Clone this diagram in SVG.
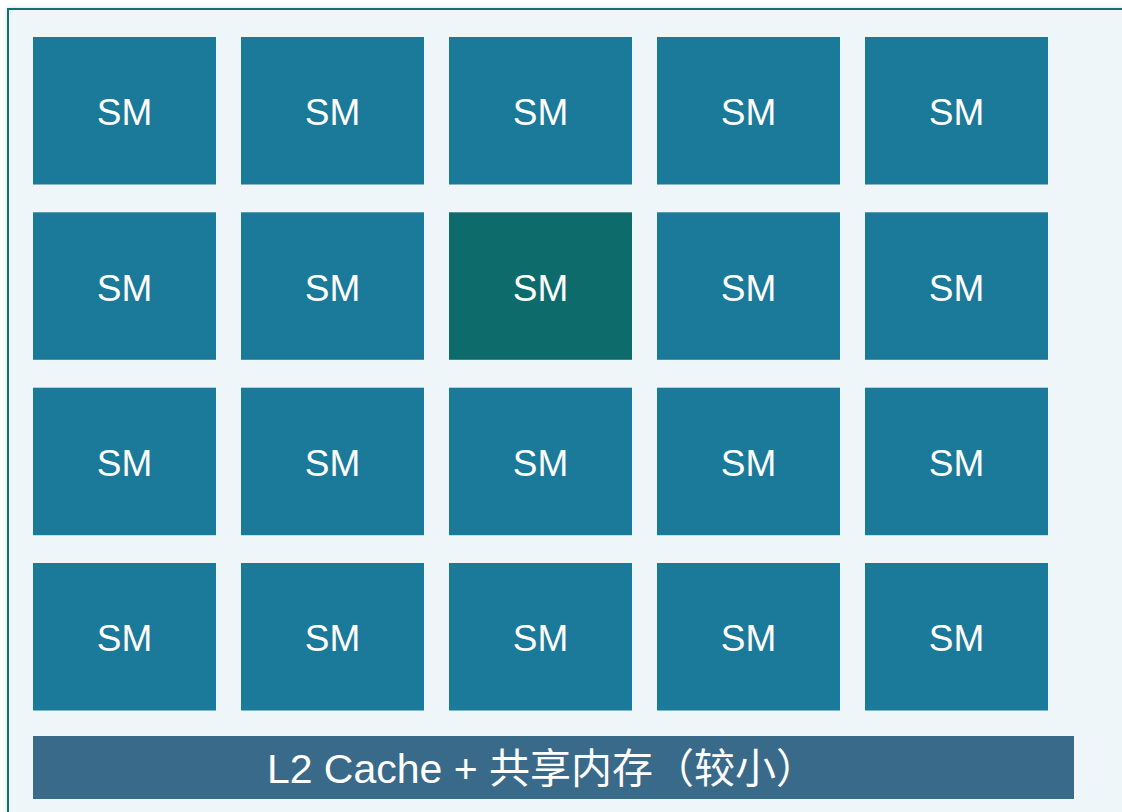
<svg xmlns="http://www.w3.org/2000/svg" width="1122" height="812" viewBox="0 0 1122 812">
<defs>
<style>
.sm{fill:#1b799a}
.hl{fill:#0e6b6c}
.t{font-family:"Liberation Sans",Arial,sans-serif;font-size:37px;fill:#ffffff;text-anchor:middle}
.l2t{font-family:"Liberation Sans","Noto Sans CJK SC",sans-serif;font-size:41px;fill:#ffffff;text-anchor:middle}
</style>
<filter id="sh" x="-5%" y="-5%" width="110%" height="110%">
<feDropShadow dx="0" dy="0" stdDeviation="2" flood-color="#000" flood-opacity="0.15"/>
</filter>
</defs>
<rect x="0" y="0" width="1122" height="812" fill="#ffffff"/>
<rect id="frame" x="8" y="9" width="1140" height="830" fill="#eef6fa" stroke="#176e6e" stroke-width="2" filter="url(#sh)"/>
<g id="sm-r1c1"><rect class="sm" x="33" y="37" width="183" height="147.5"/><text class="t" x="124.5" y="125.3">SM</text></g>
<g id="sm-r1c2"><rect class="sm" x="241" y="37" width="183" height="147.5"/><text class="t" x="332.5" y="125.3">SM</text></g>
<g id="sm-r1c3"><rect class="sm" x="449" y="37" width="183" height="147.5"/><text class="t" x="540.5" y="125.3">SM</text></g>
<g id="sm-r1c4"><rect class="sm" x="657" y="37" width="183" height="147.5"/><text class="t" x="748.5" y="125.3">SM</text></g>
<g id="sm-r1c5"><rect class="sm" x="865" y="37" width="183" height="147.5"/><text class="t" x="956.5" y="125.3">SM</text></g>

<g id="sm-r2c1"><rect class="sm" x="33" y="212.3" width="183" height="147.5"/><text class="t" x="124.5" y="300.6">SM</text></g>
<g id="sm-r2c2"><rect class="sm" x="241" y="212.3" width="183" height="147.5"/><text class="t" x="332.5" y="300.6">SM</text></g>
<g id="sm-r2c3"><rect class="hl" x="449" y="212.3" width="183" height="147.5"/><text class="t" x="540.5" y="300.6">SM</text></g>
<g id="sm-r2c4"><rect class="sm" x="657" y="212.3" width="183" height="147.5"/><text class="t" x="748.5" y="300.6">SM</text></g>
<g id="sm-r2c5"><rect class="sm" x="865" y="212.3" width="183" height="147.5"/><text class="t" x="956.5" y="300.6">SM</text></g>

<g id="sm-r3c1"><rect class="sm" x="33" y="387.7" width="183" height="147.5"/><text class="t" x="124.5" y="476">SM</text></g>
<g id="sm-r3c2"><rect class="sm" x="241" y="387.7" width="183" height="147.5"/><text class="t" x="332.5" y="476">SM</text></g>
<g id="sm-r3c3"><rect class="sm" x="449" y="387.7" width="183" height="147.5"/><text class="t" x="540.5" y="476">SM</text></g>
<g id="sm-r3c4"><rect class="sm" x="657" y="387.7" width="183" height="147.5"/><text class="t" x="748.5" y="476">SM</text></g>
<g id="sm-r3c5"><rect class="sm" x="865" y="387.7" width="183" height="147.5"/><text class="t" x="956.5" y="476">SM</text></g>

<g id="sm-r4c1"><rect class="sm" x="33" y="563" width="183" height="147.5"/><text class="t" x="124.5" y="651.3">SM</text></g>
<g id="sm-r4c2"><rect class="sm" x="241" y="563" width="183" height="147.5"/><text class="t" x="332.5" y="651.3">SM</text></g>
<g id="sm-r4c3"><rect class="sm" x="449" y="563" width="183" height="147.5"/><text class="t" x="540.5" y="651.3">SM</text></g>
<g id="sm-r4c4"><rect class="sm" x="657" y="563" width="183" height="147.5"/><text class="t" x="748.5" y="651.3">SM</text></g>
<g id="sm-r4c5"><rect class="sm" x="865" y="563" width="183" height="147.5"/><text class="t" x="956.5" y="651.3">SM</text></g>

<g id="l2"><rect x="33" y="736" width="1041" height="63" fill="#3a6a8a"/><text class="l2t" x="542" y="782.5">L2 Cache + 共享内存（较小）</text></g>
<g id="connectors"></g>
</svg>
